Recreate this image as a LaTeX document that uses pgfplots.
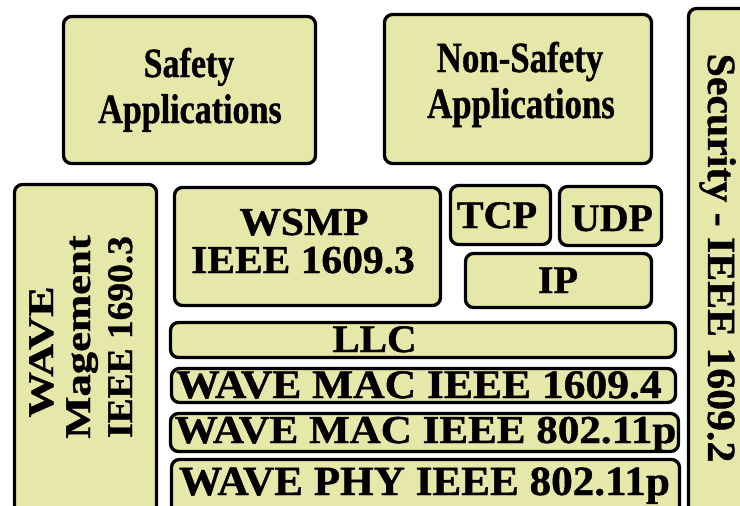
\documentclass[border=0pt]{standalone}
\usepackage{fontspec}
\setmainfont{Liberation Serif}[BoldFeatures={FakeBold=1}]
\usepackage{graphicx}
\usepackage{pgfplots}
\pgfplotsset{compat=1.18}
\definecolor{boxfill}{RGB}{230,232,170}
\tikzset{boxst/.style={draw=black, line width=3.3pt, fill=boxfill, rounded corners=8pt}}
\newcommand{\bx}[4]{\draw[boxst] (axis cs:#1,#2) rectangle (axis cs:#3,#4);}
\newcommand{\tx}[6][0]{\node[anchor=base, inner sep=0pt, rotate=#1] at (axis cs:#2,#3) {\fontsize{#4}{#4}\selectfont\bfseries\scalebox{#5}[1]{#6}};}
\begin{document}
\begin{tikzpicture}
\begin{axis}[width=740pt, height=506pt, scale only axis,
  xmin=0, xmax=740, ymin=0, ymax=506, y dir=reverse,
  axis lines=none, clip=false]
% boxes (x1,y1,x2,y2) in pixel coordinates, y from top
\bx{63.5}{16.5}{315.5}{163.5}
\bx{384.5}{14.5}{651.5}{163.5}
\bx{688.5}{8.5}{760}{530}
\bx{14.5}{184.5}{156.5}{530}
\bx{174.5}{187.5}{440.5}{305.5}
\bx{450.5}{185.5}{550.5}{244.5}
\bx{559.5}{186.5}{661.5}{245.5}
\bx{465.5}{253.5}{651.5}{307.5}
\bx{170.5}{322.5}{675.5}{357.5}
\bx{171.5}{368.5}{675.5}{402.5}
\bx{170.5}{413.5}{678.5}{451.5}
\bx{171.5}{459.5}{679.5}{530}
% texts
\tx{189}{77}{41.5}{0.82}{Safety}
\tx{190}{123}{41.5}{0.82}{Applications}
\tx{520}{72}{43}{0.81}{Non-Safety}
\tx{521}{118}{43}{0.81}{Applications}
\tx{304}{235}{39.5}{1.05}{WSMP}
\tx{303}{273}{39.5}{1.05}{IEEE 1609.3}
\tx{497}{228}{39}{1.03}{TCP}
\tx{612}{231}{39}{1.02}{UDP}
\tx{558}{293}{39}{1.03}{IP}
\tx{374.5}{352}{39}{1.05}{LLC}
\tx{419}{398}{40.5}{1.075}{WAVE MAC IEEE 1609.4}
\tx{425.5}{443}{39.5}{1.09}{WAVE MAC IEEE 802.11p}
\tx{424.5}{495}{41.5}{1.04}{WAVE PHY IEEE 802.11p}
\tx[90]{53}{352}{36}{1.27}{WAVE}
\tx[90]{90}{337}{36}{1.24}{Magement}
\tx[90]{132}{337}{36}{1.04}{IEEE 1690.3}
\tx[-90]{708}{258}{40}{1.045}{Security - IEEE 1609.2}
\end{axis}
\pgfresetboundingbox
\useasboundingbox (0,0) rectangle (740pt,506pt);
\end{tikzpicture}
\end{document}
